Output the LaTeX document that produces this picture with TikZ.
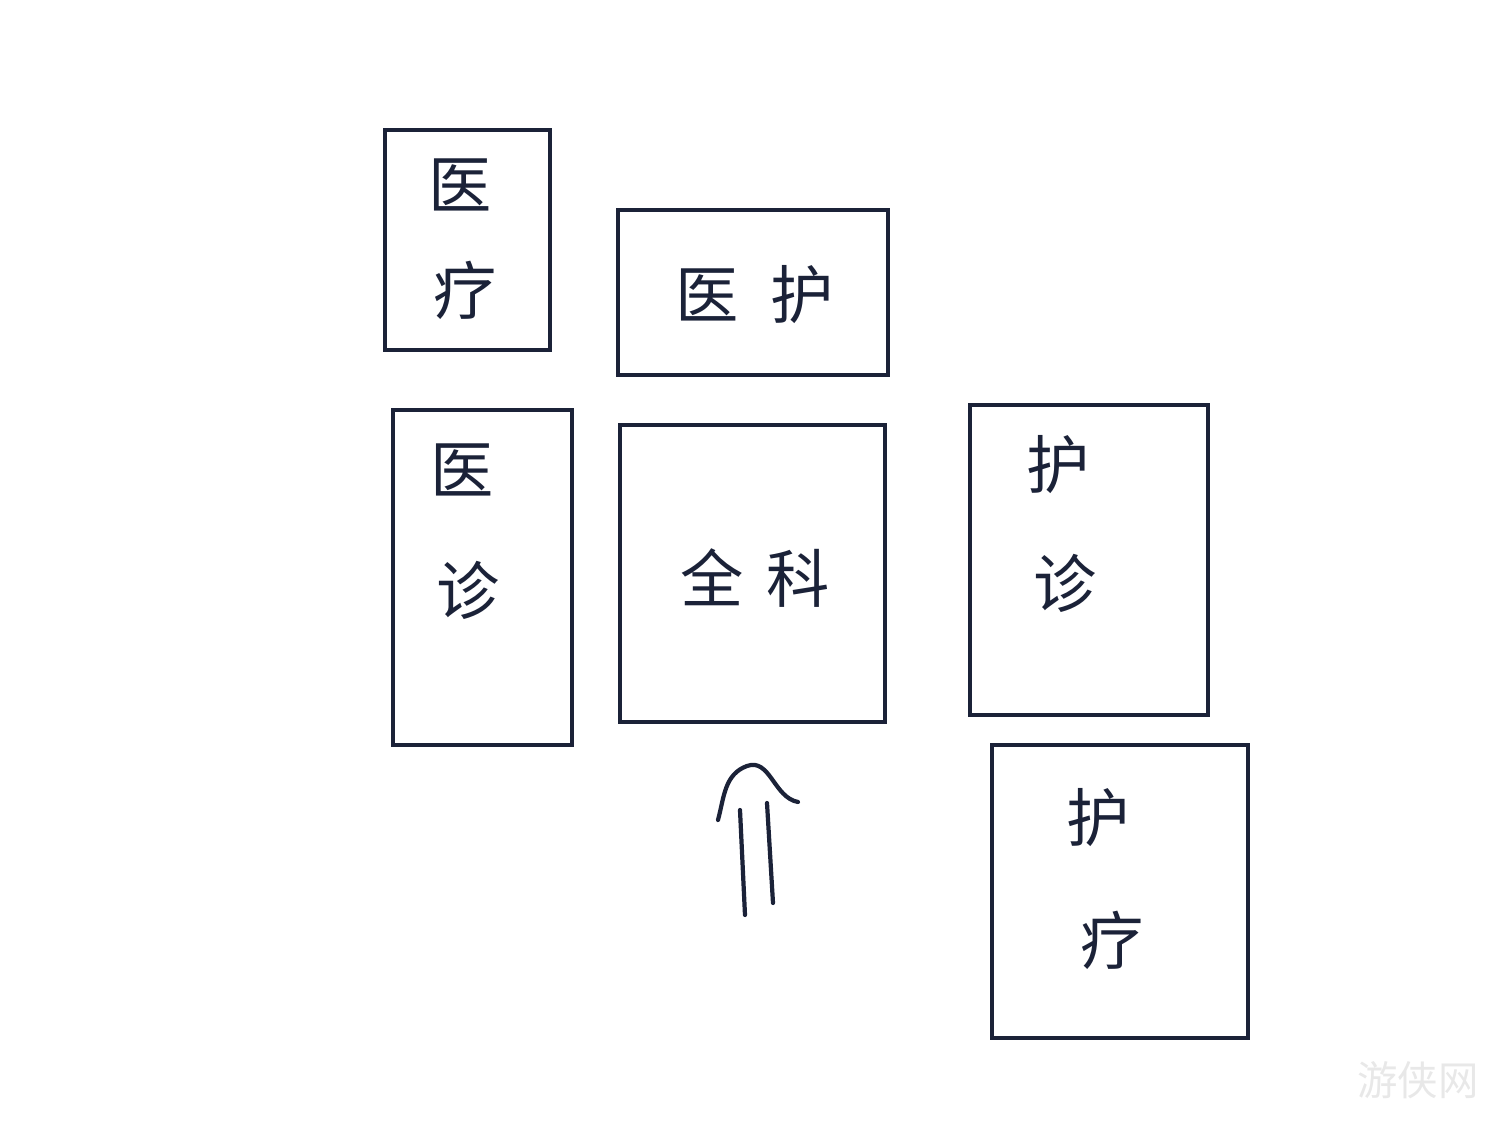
\documentclass[tikz,border=0pt]{standalone}
\usepackage{fontspec}
\usepackage{xcolor}
\usepackage{tikz}
\newfontfamily\cjk{Noto Sans CJK SC}
\definecolor{ink}{HTML}{1B2238}
\usetikzlibrary{calc, positioning}

\begin{document}
\begin{tikzpicture}[-,line width=1.2pt,draw=ink,
                    box node/.style={rectangle,draw=ink,line width=1.2pt,inner sep=0pt},
                    char node/.style={text=ink,font=\cjk\fontsize{18}{20}\selectfont,inner sep=0pt}]

  \useasboundingbox (0,0) rectangle (15,11.25);

  % boxes
  \node[box node,minimum width=1.65cm,minimum height=2.2cm]  (yiliao)  at (4.675,8.85)  {};
  \node[box node,minimum width=2.7cm,minimum height=1.65cm]  (yihu)    at (7.53,8.325)  {};
  \node[box node,minimum width=1.79cm,minimum height=3.35cm] (yizhen)  at (4.825,5.475) {};
  \node[box node,minimum width=2.65cm,minimum height=2.97cm] (quanke)  at (7.525,5.515) {};
  \node[box node,minimum width=2.38cm,minimum height=3.1cm]  (huzhen)  at (10.89,5.65)  {};
  \node[box node,minimum width=2.56cm,minimum height=2.93cm] (huliao)  at (11.2,2.335)  {};

  % texts
  \node[char node] (yiliao1) at (4.60,9.40) {医};
  \node[char node] (yiliao2) at (4.65,8.35) {疗};
  \node[char node] (yihu1)   at (7.55,8.30) {医\hspace{0.5em}护};
  \node[char node] (yizhen1) at (4.62,6.55) {医};
  \node[char node] (yizhen2) at (4.68,5.35) {诊};
  \node[char node] (quanke1) at (7.55,5.47) {全\hspace{0.35em}科};
  \node[char node] (huzhen1) at (10.58,6.60) {护};
  \node[char node] (huzhen2) at (10.65,5.42) {诊};
  \node[char node] (huliao1) at (10.98,3.07) {护};
  \node[char node] (huliao2) at (11.12,1.85) {疗};

  % arrow
  \coordinate (tail l) at (7.45,2.10);
  \coordinate (head l) at (7.40,3.15);
  \coordinate (tail r) at (7.73,2.22);
  \coordinate (head r) at (7.67,3.22);
  \coordinate (wing l) at (7.18,3.05);
  \coordinate (tip)    at (7.47,3.59);
  \coordinate (wing r) at (7.98,3.23);

  \path[draw=ink,line cap=round]
    (tail l) edge (head l)
    (tail r) edge (head r);
  \draw[ink,line cap=round] (wing l) to[out=75,in=200] (tip) to[out=20,in=170] (wing r);

  % watermark
  \node[text=gray!18,font=\cjk\fontsize{11.5}{13}\selectfont,inner sep=0pt] (mark) at (14.18,0.45) {游侠网};

\end{tikzpicture}
\end{document}
